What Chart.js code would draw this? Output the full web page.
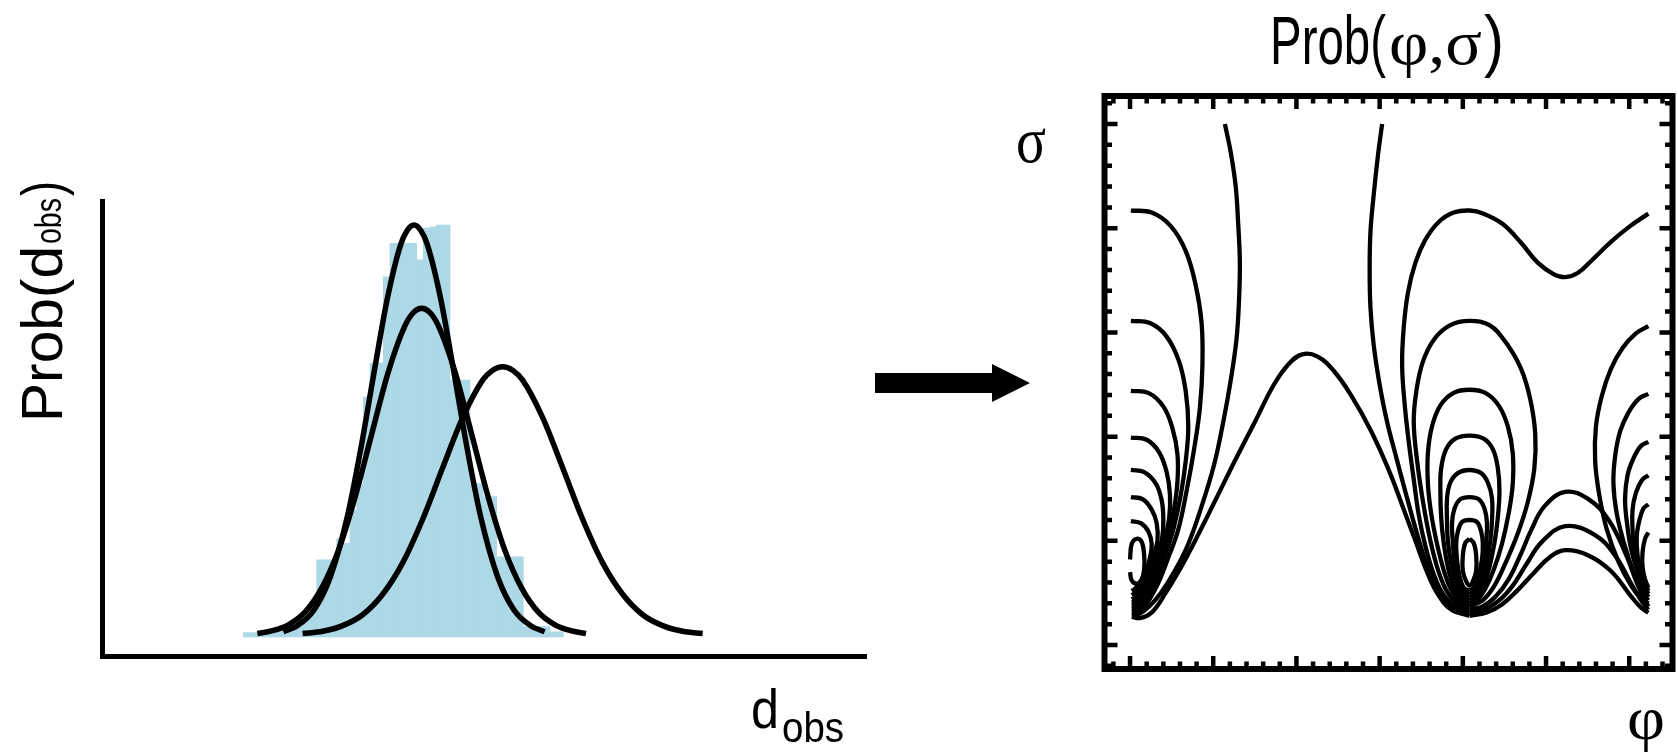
<!DOCTYPE html>
<html>
<head>
<meta charset="utf-8">
<script src="https://cdn.jsdelivr.net/npm/chart.js@4.4.1/dist/chart.umd.min.js"></script>
<style>
  html, body { margin: 0; padding: 0; background: #fff; }
  #wrap { position: relative; width: 1678px; height: 756px; overflow: hidden; background: #fff; }
  canvas { position: absolute; }
  #dobsChart { left: 0; top: 0; }
  #probChart { left: 1080px; top: 0; }
  #labels { position: absolute; left: 0; top: 0; pointer-events: none; }
</style>
</head>
<body>
<div id="wrap">
  <canvas id="dobsChart" width="900" height="756"></canvas>
  <canvas id="probChart" width="598" height="756"></canvas>
  <svg id="labels" width="1678" height="756" xmlns="http://www.w3.org/2000/svg">
    <!-- left panel axis labels -->
    <g transform="translate(62,422) rotate(-90)" font-family="Liberation Sans, Arial, sans-serif" fill="#000">
      <text x="0" y="0" font-size="58" textLength="176" lengthAdjust="spacingAndGlyphs">Prob(d</text>
      <text x="178" y="-1" font-size="37" textLength="46" lengthAdjust="spacingAndGlyphs">obs</text>
      <text x="226" y="0" font-size="58" textLength="15" lengthAdjust="spacingAndGlyphs">)</text>
    </g>
    <g font-family="Liberation Sans, Arial, sans-serif" fill="#000">
      <text x="751" y="728" font-size="56" textLength="28" lengthAdjust="spacingAndGlyphs">d</text>
      <text x="782" y="742" font-size="42" textLength="62" lengthAdjust="spacingAndGlyphs">obs</text>
    </g>
    <!-- arrow between the panels -->
    <polygon points="875,373 992,373 992,364 1030,383 992,402 992,393 875,393" fill="#000"/>
    <!-- right panel title and axis labels -->
    <g fill="#000">
      <text x="1270" y="64" font-family="Liberation Sans, Arial, sans-serif" font-size="68" textLength="116" lengthAdjust="spacingAndGlyphs">Prob(</text>
      <text x="1389" y="64" font-family="Liberation Serif, Times New Roman, serif" font-size="64" textLength="93" lengthAdjust="spacingAndGlyphs">φ,σ</text>
      <text x="1484" y="64" font-family="Liberation Sans, Arial, sans-serif" font-size="68" textLength="20" lengthAdjust="spacingAndGlyphs">)</text>
      <text x="1016" y="162" font-family="Liberation Serif, Times New Roman, serif" font-size="66" textLength="30" lengthAdjust="spacingAndGlyphs">σ</text>
      <text x="1627" y="739" font-family="Liberation Serif, Times New Roman, serif" font-size="62" textLength="38" lengthAdjust="spacingAndGlyphs">φ</text>
    </g>
  </svg>
</div>
<script>
// ---------- left panel: histogram of d_obs with three fitted curves ----------
const HIST_BIN_CENTERS = [21,22,23,24,25,26,27,28,29,30,31,32,33,34,35,36,37,38,39,40,41,42,43,44,
                          45,46,47,48,49,50,51,52,53,54,55,56,57,58,59,60,61,62,63,64,65,66,67,68];
const HIST_COUNTS = [1.0,1.0,0.8,1.0,1.2,1.3,1.6,2.0,2.8,3.9,6.2,17.7,17.7,17.7,22.6,21.5,29.1,35.2,55.0,62.8,62.8,82.6,90.3,90.3,
                     90.3,90.3,86.5,93.8,94.1,94.5,94.5,58.9,58.9,58.9,35.2,35.2,32.2,32.2,18.4,18.4,18.4,18.4,2.4,2.4,2.4,2.4,1.2,1.2];

const CURVE_NARROW = [[26.5,1.2],[28.6,2.6],[31.1,6.2],[33.6,14.0],[36.1,27.6],[38.1,43.0],[40.1,60.6],[42.1,77.6],
                      [44.1,90.0],[45.1,93.3],[46.1,94.5],[47.1,93.3],[48.1,90.0],[50.1,77.6],[52.1,60.6],[54.1,43.0],
                      [56.1,27.6],[58.6,14.0],[61.1,6.2],[63.6,2.6],[65.7,1.2]];
const CURVE_MEDIUM = [[22.6,0.8],[24.75,1.4],[27.25,2.8],[29.75,5.7],[32.25,11.2],[34.75,19.8],[37.25,32.0],[39.75,46.5],
                      [42.25,60.8],[44.75,71.4],[46.0,74.4],[47.25,75.4],[48.5,74.4],[49.75,71.4],[52.25,60.8],[54.75,46.5],
                      [57.25,32.0],[59.75,19.8],[62.25,11.2],[64.75,5.7],[67.25,2.8],[69.75,1.4],[71.9,0.8]];
const CURVE_WIDE = [[29.4,0.8],[32.4,1.3],[35.4,2.6],[38.4,5.1],[41.4,9.8],[44.4,17.0],[47.4,27.0],[50.4,38.8],
                    [53.4,50.3],[56.4,58.9],[57.9,61.2],[59.4,62.0],[60.9,61.2],[62.4,58.9],[65.4,50.3],[68.4,38.8],
                    [71.4,27.0],[74.4,17.0],[77.4,9.8],[80.4,5.1],[83.4,2.6],[86.4,1.3],[89.4,0.8]];

// ---------- right panel: contour lines of Prob(phi, sigma) ----------
const PHI_MAJOR_TICKS = [0,1,2,3,4,5,6];
const SIGMA_MAJOR_TICKS = [0,1,2,3,4,5];
const MINOR_TICK_STEP = 0.2;

// closed contours around the minimum at phi ~ 0, cut by the phi = 0 edge
const LEFT_ARCHES = [
  [[0.01,4.17],[0.26,4.15],[0.49,4.02],[0.67,3.78],[0.79,3.45],[0.86,3.09],[0.87,2.69],[0.84,2.28],[0.77,1.88],[0.68,1.48],[0.58,1.11],[0.46,0.84],[0.33,0.58],[0.20,0.40],[0.10,0.33],[0.02,0.32]],
  [[0.01,3.11],[0.24,3.09],[0.44,2.96],[0.59,2.72],[0.67,2.43],[0.70,2.10],[0.67,1.77],[0.61,1.44],[0.52,1.11],[0.42,0.86],[0.31,0.62],[0.19,0.43],[0.09,0.36],[0.02,0.35]],
  [[0.01,2.44],[0.22,2.42],[0.40,2.29],[0.51,2.08],[0.57,1.83],[0.57,1.57],[0.53,1.31],[0.46,1.04],[0.38,0.86],[0.29,0.65],[0.18,0.46],[0.08,0.39],[0.02,0.38]],
  [[0.01,1.99],[0.20,1.97],[0.35,1.85],[0.44,1.66],[0.48,1.44],[0.47,1.22],[0.41,0.99],[0.34,0.85],[0.26,0.67],[0.16,0.50],[0.07,0.42],[0.02,0.41]],
  [[0.01,1.68],[0.17,1.66],[0.31,1.55],[0.38,1.39],[0.40,1.20],[0.38,1.00],[0.31,0.85],[0.24,0.70],[0.15,0.54],[0.07,0.46],[0.02,0.44]],
  [[0.01,1.42],[0.15,1.40],[0.26,1.30],[0.32,1.17],[0.33,1.00],[0.28,0.86],[0.22,0.72],[0.14,0.58],[0.06,0.50],[0.02,0.48]],
  [[0.01,1.19],[0.13,1.17],[0.22,1.09],[0.26,0.97],[0.24,0.84],[0.20,0.73],[0.13,0.61],[0.06,0.54],[0.02,0.52]],
  [[0.00,0.82],[0.02,0.97],[0.08,1.02],[0.14,0.99],[0.17,0.86],[0.17,0.73],[0.14,0.63],[0.08,0.59],[0.02,0.62],[0.00,0.70]]
];

// open contours: two from the top edge, the central hump, and the wave from the right edge
const OPEN_CURVES = [
  [[1.14,5.00],[1.21,4.73],[1.27,4.40],[1.30,4.04],[1.32,3.67],[1.31,3.31],[1.28,2.94],[1.21,2.54],[1.12,2.14],[1.01,1.73],[0.86,1.33],[0.70,0.97],[0.53,0.70],[0.37,0.50],[0.23,0.37],[0.11,0.30],[0.02,0.29]],
  [[0.02,0.27],[0.13,0.26],[0.27,0.32],[0.42,0.49],[0.65,0.80],[0.92,1.22],[1.23,1.72],[1.50,2.14],[1.73,2.50],[1.91,2.70],[2.07,2.79],[2.25,2.77],[2.45,2.63],[2.67,2.38],[2.90,2.05],[3.12,1.66],[3.29,1.30],[3.43,1.00],[3.56,0.72],[3.69,0.50],[3.86,0.34],[4.08,0.28]],
  [[3.03,5.00],[2.98,4.70],[2.93,4.33],[2.89,3.97],[2.88,3.60],[2.89,3.23],[2.93,2.87],[3.00,2.50],[3.09,2.14],[3.21,1.77],[3.33,1.41],[3.46,1.04],[3.58,0.74],[3.71,0.52],[3.88,0.36],[4.08,0.31]],
  [[6.23,4.14],[6.01,4.02],[5.78,3.87],[5.56,3.70],[5.38,3.57],[5.23,3.53],[5.09,3.56],[4.90,3.67],[4.70,3.86],[4.48,4.04],[4.25,4.14],[4.08,4.17],[3.89,4.15],[3.71,4.06],[3.55,3.89],[3.43,3.67],[3.34,3.38],[3.29,3.05],[3.27,2.69],[3.30,2.32],[3.35,1.95],[3.41,1.59],[3.47,1.25],[3.55,0.95],[3.65,0.68],[3.77,0.48],[3.92,0.37],[4.08,0.34]]
];

// closed contours around the minimum at phi ~ 4.1
const MIDDLE_ARCHES = [
  [[4.08,0.37],[3.94,0.40],[3.82,0.50],[3.71,0.70],[3.61,1.00],[3.52,1.38],[3.45,1.77],[3.41,2.14],[3.44,2.43],[3.52,2.72],[3.66,2.94],[3.85,3.07],[4.08,3.11],[4.32,3.07],[4.52,2.90],[4.70,2.65],[4.81,2.36],[4.87,2.03],[4.86,1.70],[4.78,1.37],[4.66,1.07],[4.52,0.80],[4.38,0.57],[4.24,0.43],[4.08,0.37]],
  [[4.08,0.40],[3.96,0.43],[3.86,0.53],[3.77,0.72],[3.69,0.97],[3.62,1.26],[3.58,1.55],[3.58,1.84],[3.63,2.10],[3.73,2.30],[3.89,2.42],[4.08,2.45],[4.27,2.42],[4.43,2.30],[4.54,2.10],[4.60,1.84],[4.60,1.55],[4.55,1.26],[4.47,0.97],[4.37,0.72],[4.27,0.54],[4.18,0.44],[4.08,0.40]],
  [[4.08,0.43],[3.97,0.46],[3.89,0.56],[3.82,0.75],[3.77,0.98],[3.74,1.22],[3.73,1.48],[3.74,1.70],[3.80,1.88],[3.91,1.98],[4.08,2.01],[4.25,1.98],[4.36,1.88],[4.42,1.70],[4.44,1.48],[4.42,1.22],[4.38,0.98],[4.32,0.75],[4.25,0.58],[4.17,0.47],[4.08,0.43]],
  [[4.08,0.46],[3.99,0.49],[3.92,0.60],[3.86,0.78],[3.82,1.00],[3.81,1.19],[3.81,1.41],[3.85,1.56],[3.94,1.65],[4.08,1.68],[4.22,1.65],[4.30,1.56],[4.35,1.41],[4.35,1.19],[4.33,1.00],[4.29,0.80],[4.23,0.62],[4.16,0.50],[4.08,0.46]],
  [[4.08,0.49],[4.00,0.52],[3.94,0.62],[3.90,0.80],[3.88,0.99],[3.87,1.17],[3.90,1.31],[3.97,1.40],[4.08,1.42],[4.19,1.40],[4.26,1.31],[4.29,1.17],[4.28,0.99],[4.26,0.80],[4.21,0.64],[4.15,0.53],[4.08,0.49]],
  [[4.08,0.52],[4.01,0.55],[3.96,0.66],[3.93,0.82],[3.92,0.97],[3.94,1.09],[3.99,1.18],[4.08,1.20],[4.17,1.18],[4.22,1.09],[4.24,0.97],[4.23,0.82],[4.19,0.67],[4.14,0.56],[4.08,0.52]],
  [[4.08,1.02],[4.13,0.98],[4.16,0.86],[4.16,0.71],[4.12,0.61],[4.08,0.57],[4.04,0.61],[4.00,0.71],[4.00,0.86],[4.03,0.98],[4.08,1.02]]
];

// closed contours around the minimum at phi ~ 2*pi, cut by the right edge
const RIGHT_ARCHES = [
  [[6.23,3.06],[6.08,2.99],[5.92,2.85],[5.78,2.65],[5.67,2.39],[5.60,2.10],[5.59,1.77],[5.64,1.44],[5.73,1.11],[5.87,0.80],[6.03,0.56],[6.15,0.44],[6.23,0.40]],
  [[6.23,2.41],[6.11,2.36],[5.99,2.23],[5.89,2.05],[5.83,1.81],[5.81,1.55],[5.85,1.26],[5.94,0.97],[6.05,0.70],[6.16,0.50],[6.23,0.43]],
  [[6.23,1.95],[6.14,1.91],[6.05,1.79],[5.98,1.63],[5.95,1.41],[5.97,1.19],[6.02,0.93],[6.10,0.70],[6.18,0.53],[6.23,0.46]],
  [[6.23,1.63],[6.15,1.58],[6.08,1.46],[6.04,1.30],[6.04,1.11],[6.06,0.89],[6.13,0.70],[6.19,0.56],[6.23,0.49]],
  [[6.23,1.35],[6.17,1.31],[6.12,1.19],[6.09,1.04],[6.10,0.86],[6.14,0.70],[6.19,0.59],[6.23,0.52]],
  [[6.23,1.08],[6.19,1.02],[6.16,0.89],[6.16,0.75],[6.19,0.63],[6.23,0.55]]
];

// low contours joining the two right-hand minima
const BRIDGE_ARCHES = [
  [[4.08,0.34],[4.24,0.37],[4.40,0.47],[4.55,0.63],[4.69,0.86],[4.82,1.10],[4.98,1.33],[5.23,1.47],[5.51,1.40],[5.76,1.19],[5.96,0.87],[6.10,0.58],[6.23,0.37]],
  [[4.08,0.31],[4.26,0.34],[4.44,0.43],[4.60,0.57],[4.76,0.77],[4.95,0.99],[5.23,1.14],[5.58,1.06],[5.83,0.86],[6.03,0.58],[6.15,0.42],[6.23,0.34]],
  [[4.08,0.28],[4.28,0.31],[4.47,0.39],[4.65,0.52],[4.85,0.69],[5.04,0.84],[5.23,0.91],[5.51,0.86],[5.78,0.71],[6.01,0.48],[6.14,0.36],[6.23,0.31]]
];

const toXY = pts => pts.map(([x, y]) => ({ x, y }));

// ---------- left chart ----------
const curveStyle = {
  type: 'line', borderColor: '#000', borderWidth: 5.5, pointRadius: 0,
  cubicInterpolationMode: 'monotone', fill: false, order: 1, borderCapStyle: 'butt'
};

new Chart(document.getElementById('dobsChart'), {
  type: 'bar',
  data: {
    datasets: [
      { ...curveStyle, label: 'narrow', data: toXY(CURVE_NARROW) },
      { ...curveStyle, label: 'medium', data: toXY(CURVE_MEDIUM) },
      { ...curveStyle, label: 'wide', data: toXY(CURVE_WIDE) },
      {
        type: 'bar', label: 'histogram', order: 2,
        data: HIST_BIN_CENTERS.map((x, i) => ({ x, y: HIST_COUNTS[i] })),
        backgroundColor: '#add8e6', borderWidth: 0,
        barPercentage: 1, categoryPercentage: 1
      }
    ]
  },
  options: {
    responsive: false, animation: false,
    layout: { padding: { left: 102, right: 34, top: 201, bottom: 100 } },
    plugins: { legend: { display: false }, tooltip: { enabled: false }, title: { display: false } },
    scales: {
      x: {
        type: 'linear', min: -0.7, max: 113.9, offset: false,
        ticks: { display: false },
        grid: { display: false, drawTicks: false },
        border: { display: true, color: '#000', width: 5 }
      },
      y: {
        type: 'linear', min: -4.36, max: 100,
        ticks: { display: false },
        grid: { display: false, drawTicks: false },
        border: { display: true, color: '#000', width: 5 }
      }
    }
  }
});

// ---------- right chart ----------
const frameAndTicks = {
  id: 'frameAndTicks',
  afterDatasetsDraw(chart) {
    const { ctx, chartArea: a, scales: { x, y } } = chart;
    const majorLen = 13, minorLen = 7.5;
    ctx.save();
    ctx.strokeStyle = '#000';
    ctx.lineCap = 'butt';
    ctx.lineWidth = 4.5;
    const isMajor = (v, list) => list.some(m => Math.abs(m - v) < 1e-6);
    const forSteps = (scale, majors, fn) => {
      const kStart = Math.ceil(scale.min / MINOR_TICK_STEP + 1e-9);
      const kEnd = Math.floor(scale.max / MINOR_TICK_STEP - 1e-9);
      for (let k = kStart; k <= kEnd; k++) {
        const v = Math.round(k * MINOR_TICK_STEP * 1000) / 1000;
        fn(scale.getPixelForValue(v), isMajor(v, majors) ? majorLen : minorLen);
      }
    };
    ctx.beginPath();
    forSteps(x, PHI_MAJOR_TICKS, (px, len) => {
      ctx.moveTo(px, a.bottom); ctx.lineTo(px, a.bottom - len);
      ctx.moveTo(px, a.top); ctx.lineTo(px, a.top + len);
    });
    forSteps(y, SIGMA_MAJOR_TICKS, (py, len) => {
      ctx.moveTo(a.left, py); ctx.lineTo(a.left + len, py);
      ctx.moveTo(a.right, py); ctx.lineTo(a.right - len, py);
    });
    ctx.stroke();
    ctx.lineWidth = 6;
    ctx.strokeRect(a.left, a.top, a.right - a.left, a.bottom - a.top);
    ctx.restore();
  }
};

const contourSets = [...LEFT_ARCHES, ...OPEN_CURVES, ...MIDDLE_ARCHES, ...RIGHT_ARCHES, ...BRIDGE_ARCHES];

new Chart(document.getElementById('probChart'), {
  type: 'scatter',
  data: {
    datasets: contourSets.map((pts, i) => ({
      label: 'contour ' + (i + 1),
      data: toXY(pts),
      showLine: true, fill: false,
      borderColor: '#000', borderWidth: 4.3,
      pointRadius: 0, tension: 0.4,
      borderJoinStyle: 'round', borderCapStyle: 'butt'
    }))
  },
  options: {
    responsive: false, animation: false,
    layout: { padding: { left: 24.5, right: 5.5, top: 96, bottom: 87 } },
    plugins: { legend: { display: false }, tooltip: { enabled: false }, title: { display: false } },
    scales: {
      x: { type: 'linear', min: -0.307, max: 6.52, display: false },
      y: { type: 'linear', min: -0.230, max: 5.269, display: false }
    }
  },
  plugins: [frameAndTicks]
});
</script>
</body>
</html>
